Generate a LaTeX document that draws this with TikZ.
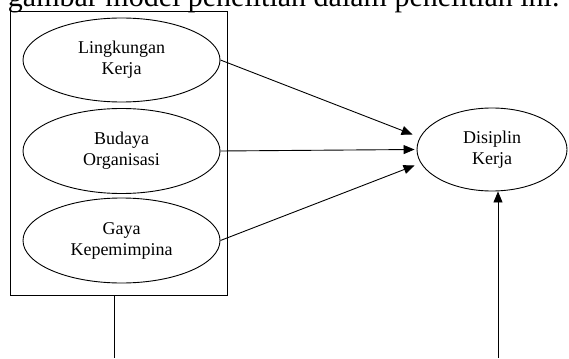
\documentclass[tikz,border=0pt]{standalone}
\usepackage{fontspec}
\setmainfont{Liberation Serif}
\usetikzlibrary{arrows.meta, shapes.geometric}

\begin{document}
\begin{tikzpicture}[x=1pt, y=1pt, line width=0.9pt,
    var/.style={draw, ellipse, inner sep=0pt, align=center,
      font=\fontsize{18}{21}\selectfont},
    arr/.style={-{Triangle[length=11pt,width=9pt]}}]
  \useasboundingbox (0,0) rectangle (569,-358);
  \clip (0,0) rectangle (569,-358);
  % caption line, cut at the top
  \node[anchor=base west, inner sep=0pt, font=\fontsize{30}{36}\selectfont]
    (cap) at (-15,-6.5) {n gambar model penelitian dalam penelitian ini.};
  % group of the three variables
  \node[draw, minimum width=217pt, minimum height=284pt, inner sep=0pt]
    (box) at (118.5,-153) {};
  \node[var, minimum width=197pt, minimum height=84pt] (lk) at (121.5,-60) {Lingkungan\\Kerja};
  \node[var, minimum width=197pt, minimum height=85pt] (bo) at (121.5,-151) {Budaya\\Organisasi};
  \node[var, minimum width=197pt, minimum height=85pt] (gk) at (121.5,-240.5) {Gaya\\Kepemimpina};
  \node[var, minimum width=150pt, minimum height=83pt] (dk) at (492,-149.5) {Disiplin\\Kerja};
  % arrows into Disiplin Kerja
  \draw[arr] (lk.east) -- ([xshift=-4pt,yshift=15pt]dk.west);
  \draw[arr] (bo.east) -- ([xshift=-2pt]dk.west);
  \draw[arr] (gk.east) -- ([xshift=-2pt,yshift=-16pt]dk.west);
  % lines running off the bottom
  \coordinate (b1) at (114,-358);
  \coordinate (b2) at (498,-358);
  \draw (box.south -| b1) -- (b1);
  \draw[arr] (b2) -- (b2 |- dk.south);
\end{tikzpicture}
\end{document}
